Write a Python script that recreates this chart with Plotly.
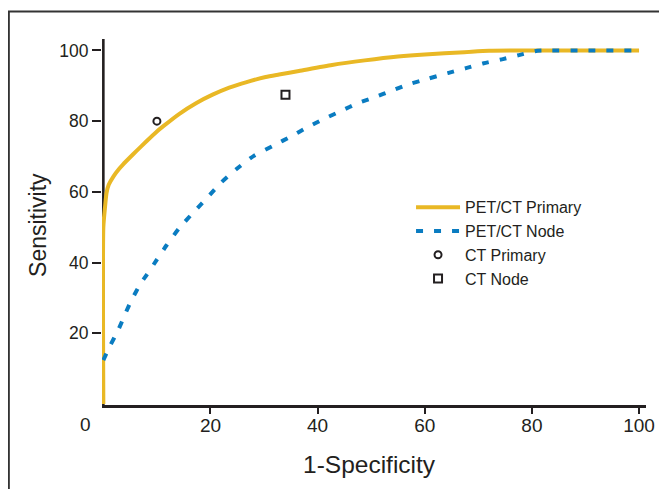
import plotly.graph_objects as go

# ---- data ----
pet_primary_x = [0, 0, 0.3, 0.6, 1.0, 1.9, 3.0, 3.7, 5.0, 6.2, 8.1, 10.0, 11.2, 14.2, 17.3,
                 20.4, 23.5, 26.6, 30.3, 32.8, 36.5, 42.7, 48.8, 55.0, 60.0, 67.4, 72.0, 80.0, 90.0, 100.0]
pet_primary_y = [0, 50, 55.5, 59.7, 62.0, 64.4, 66.6, 67.8, 69.8, 71.6, 74.4, 77.1, 78.6, 82.1, 85.1,
                 87.5, 89.5, 91.0, 92.5, 93.2, 94.2, 95.9, 97.2, 98.3, 98.9, 99.5, 99.9, 100, 100, 100]

pet_node_x = [0, 1.2, 2.8, 4.2, 5.2, 7.0, 8.0, 9.9, 11.8, 14.2, 17.0, 19.3, 21.9, 24.8, 28.1,
              32.0, 34.9, 38.0, 41.1, 44.4, 47.5, 50.7, 53.8, 57.1, 60.6, 64.3, 67.7, 71.0,
              74.4, 77.6, 81.0, 83.0, 90.0, 100.0]
pet_node_y = [12.4, 16.3, 21.0, 25.9, 29.2, 34.2, 36.3, 40.6, 44.9, 49.8, 54.5, 58.2, 62.5, 66.4, 70.2,
              73.3, 75.6, 78.2, 80.6, 82.9, 85.1, 86.8, 88.6, 90.5, 92.0, 93.6, 95.0, 96.4,
              97.5, 98.7, 99.9, 100, 100, 100]

ct_primary_x = [10]
ct_primary_y = [80]
ct_node_x = [34]
ct_node_y = [87.5]

x_ticks = [20, 40, 60, 80, 100]
y_ticks = [20, 40, 60, 80, 100]

# ---- styles ----
YELLOW = "#E9B825"
BLUE = "#0A7CC1"
INK = "#231F20"
FONT = "Liberation Sans, Arial, sans-serif"

OFF = 8  # page body margin of the browser
W, H = 667 - OFF, 489 - OFF
L, T = 102.2 - OFF, 39 - OFF
XR = [-0.25, 101.3]
YR = [-0.28, 103.25]
PX_PER_X = 5.3875
PX_PER_Y = 3.54
PW = (XR[1] - XR[0]) * PX_PER_X
PH = (YR[1] - YR[0]) * PX_PER_Y
R = W - L - PW
B = H - T - PH


def px_to_paper_x(px):
    """px in reference screen coordinates"""
    return (px - OFF - L) / PW


def px_to_paper_y(py):
    return 1 - (py - OFF - T) / PH


fig = go.Figure()
fig.add_trace(go.Scatter(x=pet_primary_x, y=pet_primary_y, mode="lines", name="PET/CT Primary",
                         line=dict(color=YELLOW, width=4, shape="spline", smoothing=0.6)))
fig.add_trace(go.Scatter(x=pet_node_x, y=pet_node_y, mode="lines", name="PET/CT Node",
                         line=dict(color=BLUE, width=4, dash="7px,11px", shape="spline", smoothing=0.6)))
fig.add_trace(go.Scatter(x=ct_primary_x, y=ct_primary_y, mode="markers", name="CT Primary",
                         marker=dict(symbol="circle-open", size=7, color=INK, line=dict(width=2, color=INK))))
fig.add_trace(go.Scatter(x=ct_node_x, y=ct_node_y, mode="markers", name="CT Node",
                         marker=dict(symbol="square-open", size=8, color=INK, line=dict(width=2, color=INK))))

fig.update_layout(
    width=W, height=H,
    margin=dict(l=L, r=R, t=T, b=B, pad=0),
    paper_bgcolor="white", plot_bgcolor="white",
    font=dict(family=FONT, color=INK),
    showlegend=True,
    legend=dict(x=px_to_paper_x(413), y=px_to_paper_y(190.5), xanchor="left", yanchor="top",
                bgcolor="rgba(0,0,0,0)", font=dict(size=16, color=INK, family=FONT),
                itemwidth=44, tracegroupgap=0),
    xaxis=dict(range=XR, tickvals=x_ticks, ticks="outside", ticklen=6, tickwidth=2, tickcolor=INK,
               showline=True, linecolor=INK, linewidth=2.5, showgrid=False, zeroline=False,
               ticklabelstandoff=-5,
               tickfont=dict(family=FONT, size=19, color=INK)),
    yaxis=dict(range=YR, tickvals=y_ticks, ticks="outside", ticklen=9, tickwidth=2, tickcolor=INK,
               showline=False, showgrid=False, zeroline=False,
               tickfont=dict(family=FONT, size=17.5, color=INK)),
)

# y-axis line drawn at x = 0 beneath the traces
fig.add_shape(type="line", xref="x", yref="paper", x0=0, x1=0, y0=0, y1=1,
              line=dict(color=INK, width=2.6), layer="below")

# outer frame (partly outside the picture)
fig.add_shape(type="rect", xref="paper", yref="paper",
              x0=px_to_paper_x(8.5), x1=px_to_paper_x(667 + 20),
              y0=px_to_paper_y(489 + 20), y1=px_to_paper_y(11.5),
              line=dict(color="#333333", width=2), fillcolor="rgba(0,0,0,0)", layer="below")

# the "0" label of the x axis, shifted left of the y axis
fig.add_annotation(text="0", xref="paper", yref="paper", x=px_to_paper_x(85.4), y=px_to_paper_y(425.5),
                   xanchor="center", yanchor="middle", showarrow=False,
                   font=dict(family=FONT, size=19, color=INK))

# axis titles
fig.add_annotation(text="Sensitivity", xref="paper", yref="paper", x=px_to_paper_x(38), y=px_to_paper_y(225),
                   xanchor="center", yanchor="middle", textangle=-90, showarrow=False,
                   font=dict(family=FONT, size=23, color=INK))
fig.add_annotation(text="1-Specificity", xref="paper", yref="paper", x=px_to_paper_x(371), y=px_to_paper_y(465),
                   xanchor="center", yanchor="middle", showarrow=False,
                   font=dict(family=FONT, size=24.5, color=INK))

fig.write_html("out.html")
